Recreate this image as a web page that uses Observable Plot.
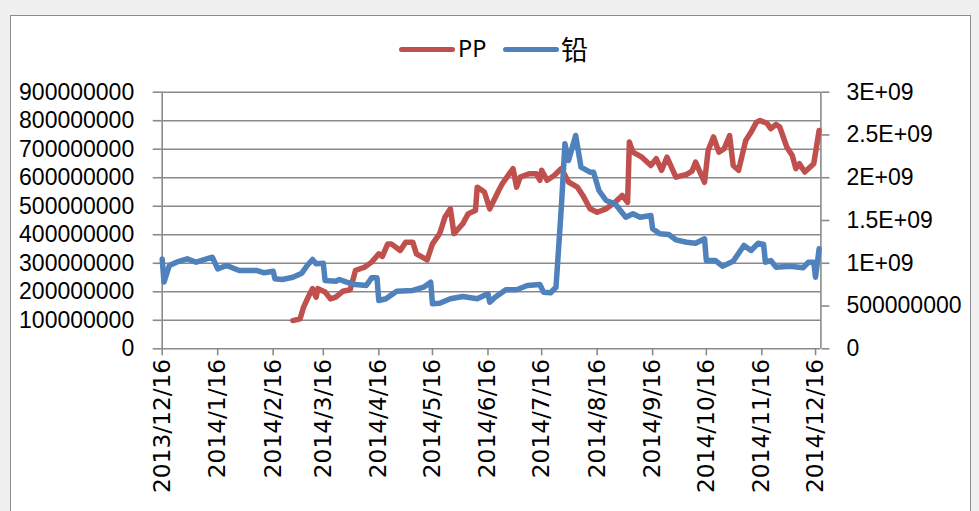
<!DOCTYPE html>
<html>
<head>
<meta charset="utf-8">
<script src="https://cdn.jsdelivr.net/npm/d3@7"></script>
<script src="https://cdn.jsdelivr.net/npm/@observablehq/plot@0.6"></script>
<style>
  html, body { margin: 0; padding: 0; }
  body { width: 979px; height: 511px; overflow: hidden; background: #f0f0f0; position: relative; font-family: "Noto Sans", sans-serif; }
  #panel { position: absolute; left: 10px; top: 14.5px; width: 959px; height: 520px; border: 1.5px solid #8c8c8c; background: #fff; }
  #legend { position: absolute; left: 0; top: 0; width: 979px; height: 70px; }
  .sw { position: absolute; height: 5px; width: 56px; border-radius: 3px; top: 46.5px; }
  .lt { position: absolute; top: 48.5px; transform: translateY(-50%); line-height: 1; color: #000; white-space: nowrap; }
  #chart { position: absolute; left: 0; top: 70px; }
</style>
</head>
<body>
<div id="panel"></div>
<div id="legend">
  <div class="sw" style="left:399px;background:#C0504D"></div>
  <div class="lt" style="left:458px;font-size:23.5px;font-family:'Noto Sans'">PP</div>
  <div class="sw" style="left:503px;background:#4F81BD"></div>
  <div class="lt" style="left:561px;top:47.5px;font-size:27px;font-family:'Noto Sans CJK SC'">铅</div>
</div>
<div id="chart"></div>
<script>
// ---- Data ----
const seriesNames = ["PP", "铅"];

const ppDates = ["2014-02-27","2014-03-03","2014-03-05","2014-03-08","2014-03-10","2014-03-12","2014-03-13","2014-03-17","2014-03-20","2014-03-23","2014-03-27","2014-03-31","2014-04-03","2014-04-08","2014-04-12","2014-04-16","2014-04-18","2014-04-21","2014-04-23","2014-04-28","2014-05-01","2014-05-05","2014-05-07","2014-05-13","2014-05-16","2014-05-20","2014-05-23","2014-05-26","2014-05-28","2014-06-02","2014-06-05","2014-06-09","2014-06-10","2014-06-14","2014-06-17","2014-06-22","2014-06-24","2014-06-26","2014-06-30","2014-07-02","2014-07-04","2014-07-09","2014-07-13","2014-07-15","2014-07-16","2014-07-19","2014-07-23","2014-07-27","2014-07-31","2014-08-05","2014-08-08","2014-08-12","2014-08-16","2014-08-21","2014-08-26","2014-08-30","2014-09-02","2014-09-03","2014-09-05","2014-09-10","2014-09-15","2014-09-18","2014-09-21","2014-09-24","2014-09-29","2014-10-05","2014-10-08","2014-10-10","2014-10-15","2014-10-17","2014-10-20","2014-10-23","2014-10-26","2014-10-29","2014-10-31","2014-11-03","2014-11-07","2014-11-10","2014-11-13","2014-11-15","2014-11-19","2014-11-21","2014-11-24","2014-11-26","2014-11-30","2014-12-03","2014-12-05","2014-12-07","2014-12-10","2014-12-15","2014-12-18"];
const ppValues = [99e6,105e6,146e6,187e6,211e6,181e6,211e6,199e6,175e6,181e6,202e6,207e6,275e6,286e6,304e6,333e6,324e6,368e6,368e6,345e6,374e6,374e6,333e6,312e6,368e6,404e6,462e6,491e6,404e6,439e6,474e6,485e6,567e6,550e6,491e6,555e6,579e6,597e6,632e6,567e6,602e6,614e6,614e6,591e6,626e6,591e6,608e6,632e6,585e6,567e6,538e6,491e6,479e6,491e6,514e6,538e6,514e6,725e6,690e6,672e6,643e6,667e6,626e6,672e6,602e6,612e6,623e6,655e6,584e6,696e6,743e6,690e6,702e6,748e6,643e6,626e6,731e6,760e6,795e6,801e6,790e6,772e6,787e6,778e6,707e6,678e6,632e6,649e6,620e6,649e6,766e6];

const leadDates = ["2013-12-16","2013-12-17","2013-12-20","2013-12-24","2013-12-30","2014-01-04","2014-01-13","2014-01-16","2014-01-21","2014-01-28","2014-02-07","2014-02-11","2014-02-16","2014-02-17","2014-02-21","2014-02-27","2014-03-04","2014-03-07","2014-03-10","2014-03-12","2014-03-16","2014-03-17","2014-03-23","2014-03-25","2014-03-29","2014-04-03","2014-04-09","2014-04-12","2014-04-15","2014-04-16","2014-04-20","2014-04-26","2014-05-05","2014-05-11","2014-05-15","2014-05-16","2014-05-20","2014-05-26","2014-06-02","2014-06-10","2014-06-16","2014-06-17","2014-06-20","2014-06-26","2014-07-02","2014-07-08","2014-07-15","2014-07-17","2014-07-21","2014-07-24","2014-07-27","2014-07-29","2014-07-31","2014-08-04","2014-08-07","2014-08-12","2014-08-14","2014-08-17","2014-08-21","2014-08-26","2014-09-01","2014-09-05","2014-09-09","2014-09-15","2014-09-16","2014-09-20","2014-09-25","2014-09-29","2014-10-05","2014-10-10","2014-10-15","2014-10-16","2014-10-21","2014-10-25","2014-10-31","2014-11-06","2014-11-10","2014-11-14","2014-11-17","2014-11-18","2014-11-21","2014-11-24","2014-12-02","2014-12-09","2014-12-12","2014-12-15","2014-12-16","2014-12-18"];
const leadValues = [1.05e9,0.78e9,0.974e9,1.012e9,1.052e9,1.012e9,1.071e9,0.935e9,0.974e9,0.915e9,0.915e9,0.889e9,0.907e9,0.818e9,0.81e9,0.837e9,0.884e9,0.974e9,1.044e9,0.994e9,1.001e9,0.799e9,0.79e9,0.81e9,0.779e9,0.752e9,0.74e9,0.83e9,0.83e9,0.565e9,0.585e9,0.673e9,0.682e9,0.72e9,0.779e9,0.526e9,0.533e9,0.585e9,0.611e9,0.585e9,0.643e9,0.545e9,0.603e9,0.69e9,0.69e9,0.74e9,0.752e9,0.662e9,0.655e9,0.72e9,1.656e9,2.397e9,2.202e9,2.494e9,2.123e9,2.065e9,2.065e9,1.851e9,1.734e9,1.695e9,1.539e9,1.578e9,1.539e9,1.559e9,1.403e9,1.345e9,1.336e9,1.274e9,1.246e9,1.235e9,1.286e9,1.032e9,1.032e9,0.966e9,1.024e9,1.208e9,1.149e9,1.235e9,1.219e9,1.012e9,1.032e9,0.954e9,0.966e9,0.947e9,1.012e9,1.012e9,0.837e9,1.169e9];

const xTickDates = ["2013-12-16","2014-01-16","2014-02-16","2014-03-16","2014-04-16","2014-05-16","2014-06-16","2014-07-16","2014-08-16","2014-09-16","2014-10-16","2014-11-16","2014-12-16"];
const xTickLabels = ["2013/12/16","2014/1/16","2014/2/16","2014/3/16","2014/4/16","2014/5/16","2014/6/16","2014/7/16","2014/8/16","2014/9/16","2014/10/16","2014/11/16","2014/12/16"];
const xDomain = ["2013-12-16", "2014-12-19"];

const leftTicks = [0,100000000,200000000,300000000,400000000,500000000,600000000,700000000,800000000,900000000];
const leftTickLabels = ["0","100000000","200000000","300000000","400000000","500000000","600000000","700000000","800000000","900000000"];
const rightTicks = [0,500000000,1000000000,1500000000,2000000000,2500000000,3000000000];
const rightTickLabels = ["0","500000000","1E+09","1.5E+09","2E+09","2.5E+09","3E+09"];
const leftMax = 900000000, rightMax = 3000000000;

// ---- Build ----
const toRight = v => v * leftMax / rightMax; // secondary axis mapped into primary units
const pp = ppDates.map((d, i) => ({date: new Date(d), value: ppValues[i]}));
const lead = leadDates.map((d, i) => ({date: new Date(d), value: leadValues[i]}));
const xTicks = xTickDates.map(d => new Date(d));
const xLabelMap = new Map(xTicks.map((d, i) => [+d, xTickLabels[i]]));
const leftLabelMap = new Map(leftTicks.map((v, i) => [v, leftTickLabels[i]]));
const rightTicksScaled = rightTicks.map(toRight);
const rightLabelMap = new Map(rightTicksScaled.map((v, i) => [v, rightTickLabels[i]]));

const gridColor = "#8a8a8a";
const chart = Plot.plot({
  width: 979,
  height: 441,
  marginLeft: 161.7,
  marginRight: 158.6,
  marginTop: 21.7,
  marginBottom: 162.7,
  style: {background: "transparent", overflow: "visible", color: "#000"},
  x: {type: "utc", domain: xDomain.map(d => new Date(d))},
  y: {domain: [0, leftMax]},
  marks: [
    Plot.ruleY(leftTicks, {stroke: gridColor, strokeWidth: 1.6}),
    Plot.ruleX([new Date(xDomain[0]), new Date(xDomain[1])], {stroke: gridColor, strokeWidth: 1.6}),
    Plot.axisY(leftTicks, {anchor: "left", tickSize: 9, tickPadding: 19, stroke: gridColor, strokeWidth: 1.6, fill: "#000",
      tickFormat: d => leftLabelMap.get(d), fontSize: 23, fontFamily: "Liberation Sans", label: null}),
    Plot.axisY(rightTicksScaled, {anchor: "right", tickSize: 8, tickPadding: 17.5, stroke: gridColor, strokeWidth: 1.6, fill: "#000",
      tickFormat: d => rightLabelMap.get(d), fontSize: 23, fontFamily: "Liberation Sans", label: null}),
    Plot.axisX(xTicks, {anchor: "bottom", tickSize: 7, tickPadding: 3, tickRotate: -90, stroke: gridColor, strokeWidth: 1.6, fill: "#000",
      tickFormat: d => xLabelMap.get(+d), fontSize: 23.3, fontFamily: "DejaVu Sans", label: null}),
    Plot.line(pp, {x: "date", y: "value", stroke: "#C0504D", strokeWidth: 5.5, strokeLinejoin: "round", strokeLinecap: "round"}),
    Plot.line(lead, {x: "date", y: d => toRight(d.value), stroke: "#4F81BD", strokeWidth: 5.5, strokeLinejoin: "round", strokeLinecap: "round"})
  ]
});
document.getElementById("chart").appendChild(chart);
</script>
</body>
</html>
